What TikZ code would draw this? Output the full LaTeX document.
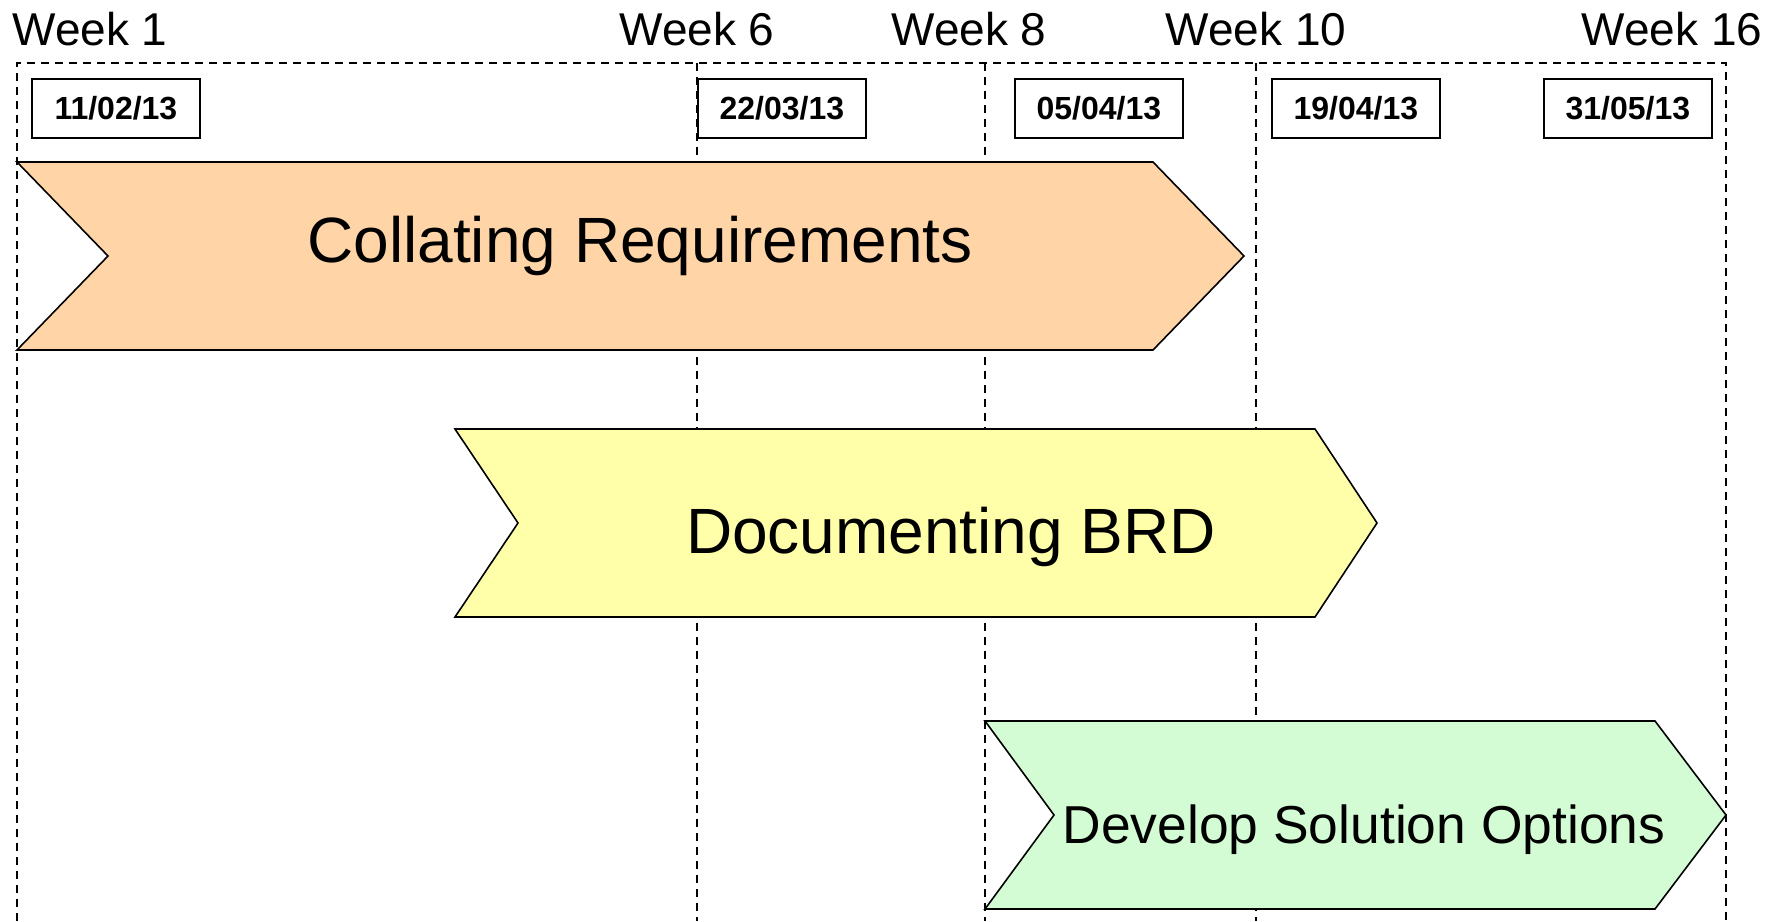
\documentclass[tikz,border=0pt]{standalone}
\usepackage{fontspec}
\setmainfont{Liberation Sans}

\definecolor{peach}{RGB}{255,213,168}
\definecolor{lightyellow}{RGB}{255,255,170}
\definecolor{mint}{RGB}{212,252,212}

\begin{document}
\begin{tikzpicture}[x=0.5pt, y=-0.5pt,
  week/.style={font=\fontsize{23}{26}\selectfont, anchor=base, inner sep=0},
  datebox/.style={draw, fill=white, line width=0.9pt, anchor=north west, inner sep=0,
    minimum width=84pt, minimum height=29.5pt, font=\fontsize{16}{19}\selectfont\bfseries},
  phase/.style={draw, line width=0.8pt},
  phasetext/.style={anchor=base, inner sep=0}]

\useasboundingbox (0,0) rectangle (1786,921);

\begin{scope}[dash pattern=on 4pt off 3pt, line width=0.6pt]
\draw (17,921) -- (17,63) -- (1726,63) -- (1726,921);
\foreach \x in {697,985,1256}
  \draw (\x,63) -- (\x,921);
\end{scope}

\node[week] (w1) at (90,45) {Week 1};
\node[week] (w6) at (697,45) {Week 6};
\node[week] (w8) at (969,45) {Week 8};
\node[week] (w10) at (1256,45) {Week 10};
\node[week] (w16) at (1672,45) {Week 16};

\node[datebox] (d1) at (31,78) {11/02/13};
\node[datebox] (d2) at (697,78) {22/03/13};
\node[datebox] (d3) at (1014,78) {05/04/13};
\node[datebox] (d4) at (1271,78) {19/04/13};
\node[datebox] (d5) at (1543,78) {31/05/13};

\draw[phase, fill=peach] (17,162) -- (1153,162) -- (1244,256) -- (1153,350) -- (17,350) -- (108,256) -- cycle;
\node[phasetext, font=\fontsize{32}{38}\selectfont] (collate) at (640,262) {Collating Requirements};

\draw[phase, fill=lightyellow] (455,429) -- (1315,429) -- (1377,523) -- (1315,617) -- (455,617) -- (518,523) -- cycle;
\node[phasetext, font=\fontsize{32}{38}\selectfont] (brd) at (951,553) {Documenting BRD};

\draw[phase, fill=mint] (985,721) -- (1655,721) -- (1726,815) -- (1655,909) -- (985,909) -- (1054,815) -- cycle;
\node[phasetext, font=\fontsize{26.7}{32}\selectfont] (options) at (1364,843) {Develop Solution Options};

\end{tikzpicture}
\end{document}
